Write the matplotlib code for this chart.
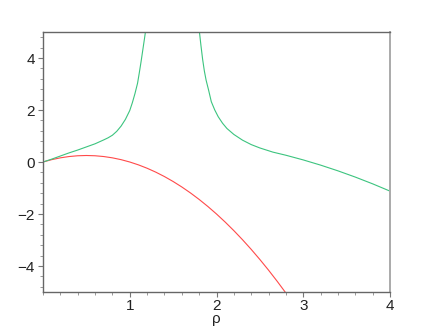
import numpy as np
import matplotlib.pyplot as plt
from matplotlib.ticker import MultipleLocator

plt.rcParams["font.family"] = ["Liberation Sans", "DejaVu Sans"]
plt.rcParams["axes.unicode_minus"] = True

# red curve
rho_red = [0.0, 0.1, 0.2, 0.3, 0.4, 0.5, 0.6, 0.7, 0.8, 0.9, 1.0, 1.1, 1.2, 1.3, 1.4,
           1.5, 1.6, 1.7, 1.8, 1.9, 2.0, 2.1, 2.2, 2.3, 2.4, 2.5, 2.6, 2.7, 2.8]
val_red = [0.0, 0.09, 0.16, 0.21, 0.24, 0.25, 0.24, 0.21, 0.16, 0.09, 0.0, -0.11, -0.24,
           -0.39, -0.56, -0.75, -0.96, -1.19, -1.44, -1.71, -2.0, -2.31, -2.64, -2.99,
           -3.36, -3.75, -4.16, -4.59, -5.04]

# green curve, left branch (up to the pole)
rho_green_l = [0.0, 0.1, 0.2, 0.3, 0.4, 0.5, 0.6, 0.7, 0.75, 0.8, 0.85, 0.9, 0.95,
               1.0, 1.03, 1.06, 1.09, 1.11, 1.13, 1.15, 1.17, 1.185]
val_green_l = [0.0, 0.11, 0.23, 0.35, 0.46, 0.58, 0.70, 0.85, 0.93, 1.03, 1.18, 1.38,
               1.64, 1.98, 2.28, 2.63, 3.03, 3.43, 3.85, 4.3, 4.75, 5.1]

# green curve, right branch (after the pole)
rho_green_r = [1.80, 1.82, 1.84, 1.86, 1.88, 1.91, 1.94, 1.98, 2.02, 2.07, 2.12, 2.2, 2.3,
               2.4, 2.5, 2.65, 2.8, 3.0, 3.2, 3.4, 3.6, 3.8, 4.0]
val_green_r = [5.1, 4.5, 3.95, 3.5, 3.15, 2.75, 2.32, 2.0, 1.74, 1.49, 1.29, 1.06, 0.84,
               0.67, 0.54, 0.38, 0.26, 0.08, -0.12, -0.34, -0.58, -0.84, -1.12]

fig = plt.figure(figsize=(4.33, 3.27), dpi=100)
ax = fig.add_axes([43/433, 1 - 292/327, (390 - 43)/433, (292 - 32)/327])

ax.plot(rho_red, val_red, color="#ff4a4a", lw=0.8)
ax.plot(rho_green_l, val_green_l, color="#3cc47f", lw=0.8)
ax.plot(rho_green_r, val_green_r, color="#3cc47f", lw=0.8)

ax.set_xlim(0, 4)
ax.set_ylim(-5, 5)
ax.set_xticks([1, 2, 3, 4])
ax.set_yticks([-4, -2, 0, 2, 4])
ax.set_yticklabels(["\u22124", "\u22122", "0", "2", "4"])
ax.xaxis.set_minor_locator(MultipleLocator(0.2))
ax.yaxis.set_minor_locator(MultipleLocator(0.4))
ax.tick_params(which="major", length=3.5, width=0.8, color="#777777",
               labelsize=11, pad=2.5, labelcolor="#222222")
ax.tick_params(axis="x", which="major", pad=1.5)
ax.tick_params(which="minor", length=2, width=0.7, color="#999999")

for s in ["left", "bottom", "top"]:
    ax.spines[s].set_color("#666666")
    ax.spines[s].set_linewidth(1.0)
ax.spines["right"].set_color("#aaaaaa")
ax.spines["right"].set_linewidth(1.4)

ax.set_xlabel("\u03c1", fontsize=11, labelpad=-1, color="#222222")

plt.savefig("out.png", dpi=100)
